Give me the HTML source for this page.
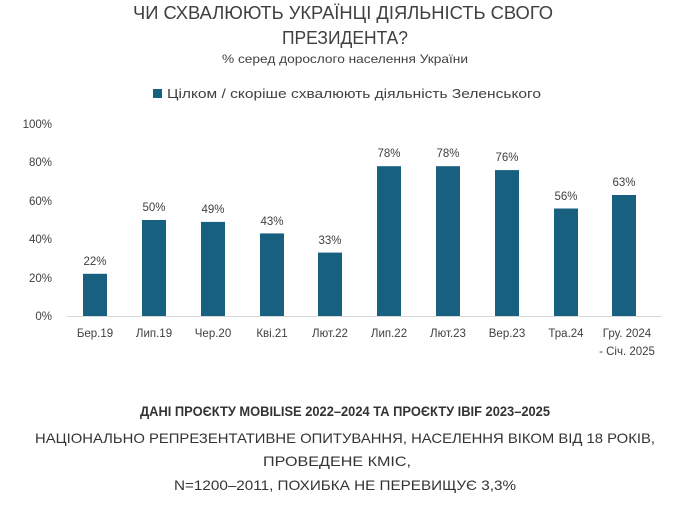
<!DOCTYPE html>
<html><head><meta charset="utf-8"><style>
body{margin:0;width:690px;height:505px;background:#fff;font-family:"Liberation Sans",sans-serif;overflow:hidden}
svg text{font-family:"Liberation Sans",sans-serif}
</style></head><body>
<svg width="690" height="505" xmlns="http://www.w3.org/2000/svg">
<text x="343" y="19" text-anchor="middle" font-size="18" fill="#404040" textLength="420" lengthAdjust="spacingAndGlyphs">ЧИ СХВАЛЮЮТЬ УКРАЇНЦІ ДІЯЛЬНІСТЬ СВОГО</text>
<text x="345" y="44" text-anchor="middle" font-size="18" fill="#404040" textLength="126" lengthAdjust="spacingAndGlyphs">ПРЕЗИДЕНТА?</text>
<text x="345" y="63" text-anchor="middle" font-size="12" fill="#404040" textLength="246" lengthAdjust="spacingAndGlyphs">% серед дорослого населення України</text>
<rect x="153" y="89" width="9" height="9" fill="#17607f"/>
<text x="167" y="98" font-size="13" fill="#404040" textLength="374" lengthAdjust="spacingAndGlyphs">Цілком / скоріше схвалюють діяльність Зеленського</text>
<g font-size="11.5" fill="#404040" text-anchor="end">
<text x="52" y="128">100%</text><text x="52" y="166">80%</text><text x="52" y="205">60%</text><text x="52" y="243">40%</text><text x="52" y="282">20%</text><text x="52" y="320">0%</text>
</g>
<line x1="67" y1="316.5" x2="662" y2="316.5" stroke="#d9d9d9" stroke-width="1"/>
<g fill="#17607f">
<rect x="83" y="273.8" width="24" height="42.2"/>
<rect x="142" y="220" width="24" height="96"/>
<rect x="201" y="221.9" width="24" height="94.1"/>
<rect x="260" y="233.4" width="24" height="82.6"/>
<rect x="318" y="252.6" width="24" height="63.4"/>
<rect x="377" y="166.2" width="24" height="149.8"/>
<rect x="436" y="166.2" width="24" height="149.8"/>
<rect x="495" y="170.1" width="24" height="145.9"/>
<rect x="554" y="208.5" width="24" height="107.5"/>
<rect x="612" y="195" width="24" height="121"/>
</g>
<g font-size="11.5" fill="#404040" text-anchor="middle">
<text x="95" y="265">22%</text><text x="154" y="211">50%</text><text x="213" y="213">49%</text><text x="272" y="225">43%</text><text x="330" y="244">33%</text><text x="389" y="157">78%</text><text x="448" y="157">78%</text><text x="507" y="161">76%</text><text x="566" y="200">56%</text><text x="624" y="186">63%</text>
<text x="95" y="337">Бер.19</text><text x="154" y="337">Лип.19</text><text x="213" y="337">Чер.20</text><text x="272" y="337">Кві.21</text><text x="330" y="337">Лют.22</text><text x="389" y="337">Лип.22</text><text x="448" y="337">Лют.23</text><text x="507" y="337">Вер.23</text><text x="566" y="337">Тра.24</text><text x="627" y="337">Гру. 2024</text><text x="627" y="355">- Січ. 2025</text>
</g>
<text x="345" y="416" text-anchor="middle" font-size="13.5" font-weight="bold" fill="#333" textLength="410" lengthAdjust="spacingAndGlyphs">ДАНІ ПРОЄКТУ MOBILISE 2022–2024 ТА ПРОЄКТУ IBIF 2023–2025</text>
<text x="345" y="443" text-anchor="middle" font-size="14" fill="#333" textLength="620" lengthAdjust="spacingAndGlyphs">НАЦІОНАЛЬНО РЕПРЕЗЕНТАТИВНЕ ОПИТУВАННЯ, НАСЕЛЕННЯ ВІКОМ ВІД 18 РОКІВ,</text>
<text x="337" y="466" text-anchor="middle" font-size="14" fill="#333" textLength="148" lengthAdjust="spacingAndGlyphs">ПРОВЕДЕНЕ КМІС,</text>
<text x="345" y="490" text-anchor="middle" font-size="14" fill="#333" textLength="342" lengthAdjust="spacingAndGlyphs">N=1200–2011, ПОХИБКА НЕ ПЕРЕВИЩУЄ 3,3%</text>
</svg>
</body></html>
